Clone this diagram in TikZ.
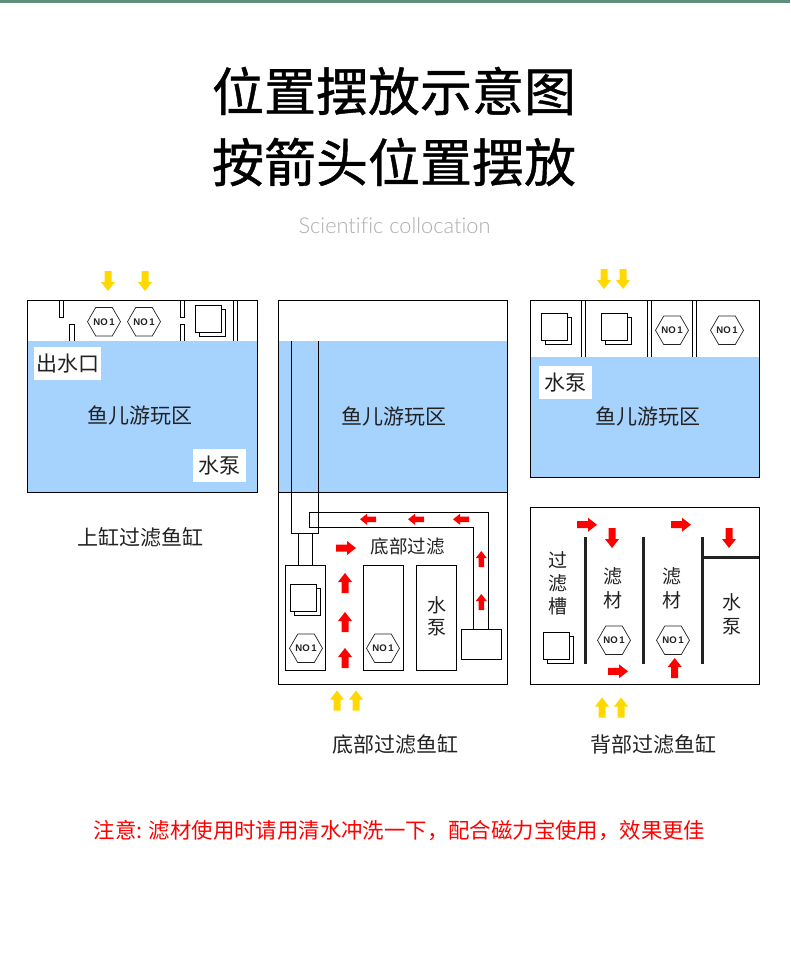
\documentclass[tikz,border=0pt]{standalone}
\usepackage{fontspec}
\setmainfont{Noto Sans CJK SC}
\newfontfamily\titlefont[FakeBold=0.8]{Noto Sans CJK SC}
\newfontfamily\latinfont[Ligatures={NoCommon}]{Lato Light}
\newfontfamily\hexfont{Liberation Sans}[BoldFont={Liberation Sans Bold}]
\usetikzlibrary{shapes.geometric}
\definecolor{water}{HTML}{A6D3FE}
\definecolor{topbar}{HTML}{5F8F7A}
\definecolor{yel}{HTML}{FFD800}
\definecolor{ink}{HTML}{222222}
\newcommand{\fs}[1]{\fontsize{#1}{#1}\selectfont}
\newcommand{\noone}{\makebox[0pt]{NO\kern1.6pt 1}}
% block arrow: x, y of the centre, rotation (y axis points down), length, colour
\newcommand{\blockarrow}[5]{%
  \fill[#5,shift={(#1,#2)},rotate=#3]
    (-#4/2,-3.5) -- (#4/2-9,-3.5) -- (#4/2-9,-7) -- (#4/2,0) -- (#4/2-9,7) -- (#4/2-9,3.5) -- (-#4/2,3.5) -- cycle;}
% the smaller red arrow inside the return pipe: x, y of the centre, rotation
\newcommand{\pipearrow}[3]{%
  \fill[red,shift={(#1,#2)},rotate=#3]
    (-8,-2.8) -- (1,-2.8) -- (1,-5.5) -- (8,0) -- (1,5.5) -- (1,2.8) -- (-8,2.8) -- cycle;}
% the two overlapping sheets of filter wool: x, y of the top-left corner of the front sheet
\newcommand{\sheets}[2]{%
  \draw[tankline,fill=white] (#1+4,#2+4) rectangle (#1+30,#2+31.4);
  \draw[tankline,fill=white] (#1,#2) rectangle (#1+26,#2+27.4);}
\tikzset{
  tankline/.style={draw=black,line width=0.9pt},
  heavy/.style={draw=ink,line width=2.6pt},
  hexbox/.style={regular polygon,regular polygon sides=6,shape border rotate=0,draw=ink,line width=0.7pt,
    minimum size=33pt,inner sep=0pt,font=\hexfont\bfseries\fs{9.6},text=ink},
  label/.style={inner sep=0pt,font=\fs{21},text=ink},
  small/.style={inner sep=0pt,font=\fs{19},text=ink},
  whitetag/.style={fill=white,inner sep=0pt,font=\fs{21},text=ink},
}
\begin{document}
\begin{tikzpicture}[x=1pt,y=-1pt]
\useasboundingbox (0,0) rectangle (790,966);
\fill[white] (0,0) rectangle (790,966);
\fill[topbar] (0,0) rectangle (790,3.5);
% headings
\node[inner sep=0pt,font=\titlefont\fs{52}] (t1) at (394,91) {位置摆放示意图};
\node[inner sep=0pt,font=\titlefont\fs{52}] (t2) at (394,162) {按箭头位置摆放};
\node[inner sep=0pt,font=\latinfont\fs{21.8},text=black!32] (t3) at (394.5,226) {Scientific collocation};
% ---------- tank 1
\fill[water] (27,341) rectangle (257,492);
\draw[tankline] (27,300.5) rectangle (257,492);
\draw[tankline,line width=0.8pt] (59.3,300.5) rectangle (63.7,317);
\draw[tankline,line width=0.8pt] (69.7,341) -- (69.7,324) -- (74,324) -- (74,341);
\draw[tankline,line width=0.8pt] (180.3,300.5) rectangle (184.7,317);
\draw[tankline,line width=0.8pt] (180.3,341) -- (180.3,324) -- (184.7,324) -- (184.7,341);
\draw[tankline,line width=0.8pt] (233.3,300.5) -- (233.3,341) (237.5,300.5) -- (237.5,341);
\node[hexbox] (h1) at (104,321.7) {\noone};
\node[hexbox] (h2) at (144,321.7) {\noone};
\sheets{195.3}{305.3}
\node[whitetag,minimum width=67pt,minimum height=33pt] (out1) at (67.5,363.3) {出水口};
\node[whitetag,minimum width=53pt,minimum height=33pt] (pump1) at (219.5,465.3) {水泵};
\node[label] (zone1) at (140,415) {鱼儿游玩区};
\blockarrow{108}{281}{-90}{20}{yel}
\blockarrow{145}{281}{-90}{20}{yel}
\node[label] (cap1) at (140.5,537) {上缸过滤鱼缸};
% ---------- tank 2
\fill[water] (278.3,341) rectangle (507.3,492.3);
\draw[tankline] (278.3,300.5) rectangle (507.3,684.3);
\draw[tankline] (278.3,492.3) -- (507.3,492.3);
\draw[tankline] (291.3,341) -- (291.3,533.3) -- (318.3,533.3) -- (318.3,341);
\draw[tankline] (298.3,533.3) -- (298.3,565.3) (312.7,533.3) -- (312.7,565.3);
\draw[tankline] (285.3,565.3) rectangle (325.7,670.3);
\draw[tankline] (363.3,565.3) rectangle (403.3,670.3);
\draw[tankline] (416.3,565.3) rectangle (456.3,670.3);
\draw[tankline] (461.3,629.3) rectangle (501.3,659.3);
\draw[tankline] (473.3,629.3) -- (473.3,527.3) -- (309.3,527.3) -- (309.3,512.3) -- (488.3,512.3) -- (488.3,629.3);
\sheets{290.3}{584.3}
\node[hexbox] (h3) at (306,648.3) {\noone};
\node[hexbox] (h4) at (383,648.3) {\noone};
\node[label] (zone2) at (394,416) {鱼儿游玩区};
\node[small,font=\fs{18.5}] (bf) at (407.7,546) {底部过滤};
\node[small] (w2) at (436.7,605) {水};
\node[small] (b2) at (436.7,628) {泵};
\pipearrow{368}{519.3}{180}
\pipearrow{416}{519.3}{180}
\pipearrow{461}{519.3}{180}
\blockarrow{346}{548}{0}{20}{red}
\blockarrow{345}{583}{90}{20}{red}
\blockarrow{345}{622}{90}{20}{red}
\blockarrow{345}{658}{90}{20}{red}
\pipearrow{481.3}{559}{90}
\pipearrow{481.3}{602}{90}
\blockarrow{337}{700.5}{90}{20}{yel}
\blockarrow{356}{700.5}{90}{20}{yel}
\node[label] (cap2) at (395.5,744) {底部过滤鱼缸};
% ---------- tank 3
\fill[water] (530.3,357) rectangle (759.3,477);
\draw[tankline] (530.3,300.5) rectangle (759.3,477);
\foreach \xa/\xb in {581.3/585.3,647.3/651.3,692.3/696.3}
  \draw[tankline] (\xa,300.5) -- (\xa,357) (\xb,300.5) -- (\xb,357);
\sheets{541.3}{313.3}
\sheets{601.3}{313.3}
\node[hexbox] (h5) at (672,330.3) {\noone};
\node[hexbox] (h6) at (727,330.3) {\noone};
\node[whitetag,minimum width=53pt,minimum height=33pt] (pump3) at (565.5,382.5) {水泵};
\node[label] (zone3) at (648,416) {鱼儿游玩区};
\blockarrow{604}{279}{-90}{20}{yel}
\blockarrow{623}{279}{-90}{20}{yel}
% ---------- tank 4
\draw[tankline] (530.3,507.3) rectangle (759.3,684);
\draw[heavy] (585.3,537) -- (585.3,663.7);
\draw[heavy] (643.3,537) -- (643.3,663.7);
\draw[heavy] (702.3,537) -- (702.3,663.7);
\draw[heavy] (702.3,557.3) -- (759.3,557.3);
\sheets{543.3}{632.3}
\node[hexbox] (h7) at (614,640.3) {\noone};
\node[hexbox] (h8) at (673,640.3) {\noone};
\node[small] (g1) at (558.3,560) {过};
\node[small] (g2) at (558.3,583) {滤};
\node[small] (g3) at (558.3,606) {槽};
\node[small] (m1) at (613.3,576.7) {滤};
\node[small] (m2) at (613.3,600.7) {材};
\node[small] (m3) at (672.3,576.7) {滤};
\node[small] (m4) at (672.3,600.7) {材};
\node[small] (w4) at (732.3,602.7) {水};
\node[small] (b4) at (732.3,626.7) {泵};
\blockarrow{587}{524.7}{0}{20}{red}
\blockarrow{681}{524.7}{0}{20}{red}
\blockarrow{612}{538}{-90}{20}{red}
\blockarrow{729}{538}{-90}{20}{red}
\blockarrow{618}{671.3}{0}{20}{red}
\blockarrow{674.7}{668}{90}{20}{red}
\blockarrow{602}{707.5}{90}{20}{yel}
\blockarrow{621}{707.5}{90}{20}{yel}
\node[label] (cap4) at (653,744) {背部过滤鱼缸};
% ---------- note
\node[inner sep=0pt,font=\fs{21.4},text=red] (note) at (399.5,831) {注意: 滤材使用时请用清水冲洗一下，配合磁力宝使用，效果更佳};
\end{tikzpicture}
\end{document}
